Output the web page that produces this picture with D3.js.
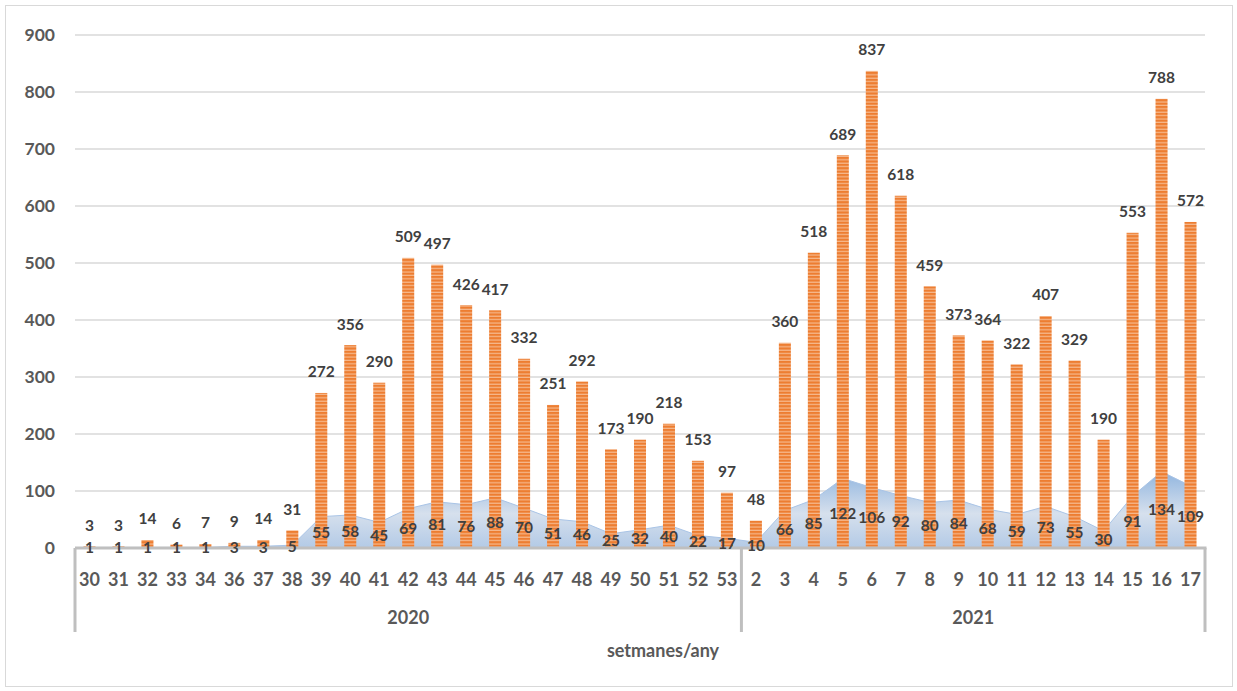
<!DOCTYPE html>
<html><head><meta charset="utf-8">
<script src="https://cdn.jsdelivr.net/npm/d3@7"></script>
<style>body{margin:0;background:#fff}svg{display:block}text{font-family:Lato,"Open Sans",sans-serif;font-weight:bold;fill:#404040}</style>
</head><body><svg id="c" width="1237" height="691"></svg>
<script>
const weeks2020 = ["30","31","32","33","34","36","37","38","39","40","41","42","43","44","45","46","47","48","49","50","51","52","53"];
const weeks2021 = ["2","3","4","5","6","7","8","9","10","11","12","13","14","15","16","17"];
const years = ["2020","2021"];
const barValues = [3,3,14,6,7,9,14,31,272,356,290,509,497,426,417,332,251,292,173,190,218,153,97,
                   48,360,518,689,837,618,459,373,364,322,407,329,190,553,788,572];
const areaValues = [1,1,1,1,1,3,3,5,55,58,45,69,81,76,88,70,51,46,25,32,40,22,17,
                    10,66,85,122,106,92,80,84,68,59,73,55,30,91,134,109];
const yTicks = [0,100,200,300,400,500,600,700,800,900];
const axisTitle = "setmanes/any";

const cats = [...weeks2020.map(w=>"2020-"+w), ...weeks2021.map(w=>"2021-"+w)];
const labelOf = c => c.split("-")[1];
const svg = d3.select("#c");
const L=75, R=1205, T=35, B=548;
const x = d3.scaleBand().domain(cats).range([L,R]).paddingInner(0.585).paddingOuter(0.2925);
const xc = d3.scaleBand().domain(cats).range([L,R]);
const y = d3.scaleLinear().domain([0,900]).range([B,T]);
const cx = c => xc(c)+xc.bandwidth()/2;

svg.append("rect").attr("x",5.5).attr("y",5.5).attr("width",1227).attr("height",681).attr("fill","#fff").attr("stroke","#d9d9d9");

const defs = svg.append("defs");
const pat = defs.append("pattern").attr("id","stripe").attr("patternUnits","userSpaceOnUse").attr("width",8).attr("height",3.4).attr("y",B);
pat.append("rect").attr("width",8).attr("height",3.4).attr("fill","#ed7d31");
pat.append("rect").attr("y",2.2).attr("width",8).attr("height",1.2).attr("fill","#f6b98e");
const g = defs.append("linearGradient").attr("id","ag").attr("gradientUnits","userSpaceOnUse").attr("x1",0).attr("x2",0).attr("y1",y(134)).attr("y2",B);
g.append("stop").attr("offset",0).attr("stop-color","#90b5df");
g.append("stop").attr("offset",0.55).attr("stop-color","#d6e0ed");
g.append("stop").attr("offset",1).attr("stop-color","#b3cae6");

// gridlines
svg.append("g").selectAll("line").data(yTicks.filter(d=>d>0)).join("line")
  .attr("x1",L).attr("x2",R).attr("y1",d=>y(d)).attr("y2",d=>y(d)).attr("stroke","#d9d9d9").attr("stroke-width",1.5);
// y labels
svg.append("g").selectAll("text").data(yTicks).join("text")
  .attr("x",55).attr("y",d=>y(d)).attr("dy","0.35em").attr("text-anchor","end").attr("font-size",17.5).style("fill","#595959").text(d=>d);

// area
const area = d3.area().x((d,i)=>cx(cats[i])).y0(B).y1(d=>y(d));
svg.append("path").datum(areaValues).attr("d",area).attr("fill","url(#ag)");
svg.append("path").datum(areaValues).attr("d",d3.line().x((d,i)=>cx(cats[i])).y(d=>y(d))).attr("fill","none").attr("stroke","#a9c4e6").attr("stroke-width",1);

// bars
svg.append("g").selectAll("rect").data(barValues).join("rect")
  .attr("x",(d,i)=>x(cats[i])).attr("width",x.bandwidth())
  .attr("y",d=>y(d)).attr("height",d=>B-y(d)).attr("fill","url(#stripe)");

// axis lines
const ax = svg.append("g").attr("stroke","#bfbfbf").attr("stroke-width",3);
ax.append("line").attr("x1",L).attr("x2",R+1.5).attr("y1",B).attr("y2",B);
const sep = [L, xc(cats[weeks2020.length]), R];
ax.selectAll("line.v").data(sep).join("line").attr("class","v")
  .attr("x1",d=>d).attr("x2",d=>d).attr("y1",B).attr("y2",632);

// bar labels
svg.append("g").selectAll("text").data(barValues).join("text")
  .attr("x",(d,i)=>cx(cats[i])).attr("y",d=>y(d)-21).attr("dy","0.35em").attr("text-anchor","middle").attr("font-size",15.5).text(d=>d);
// area labels
svg.append("g").selectAll("text").data(areaValues).join("text")
  .attr("x",(d,i)=>cx(cats[i])).attr("y",d=>y(d/2)).attr("dy","0.35em").attr("text-anchor","middle").attr("font-size",15.5).text(d=>d);

// category labels
svg.append("g").selectAll("text").data(cats).join("text")
  .attr("x",d=>cx(d)).attr("y",580).attr("dy","0.35em").attr("text-anchor","middle").attr("font-size",18).style("fill","#595959").text(labelOf);
// year labels
svg.append("g").selectAll("text").data(years).join("text")
  .attr("x",(d,i)=>(sep[i]+sep[i+1])/2).attr("y",618).attr("dy","0.35em").attr("text-anchor","middle").attr("font-size",18).style("fill","#595959").text(d=>d);
svg.append("text").attr("x",663).attr("y",651).attr("dy","0.35em").attr("text-anchor","middle").attr("font-size",18).style("fill","#595959").text(axisTitle);
</script></body></html>
